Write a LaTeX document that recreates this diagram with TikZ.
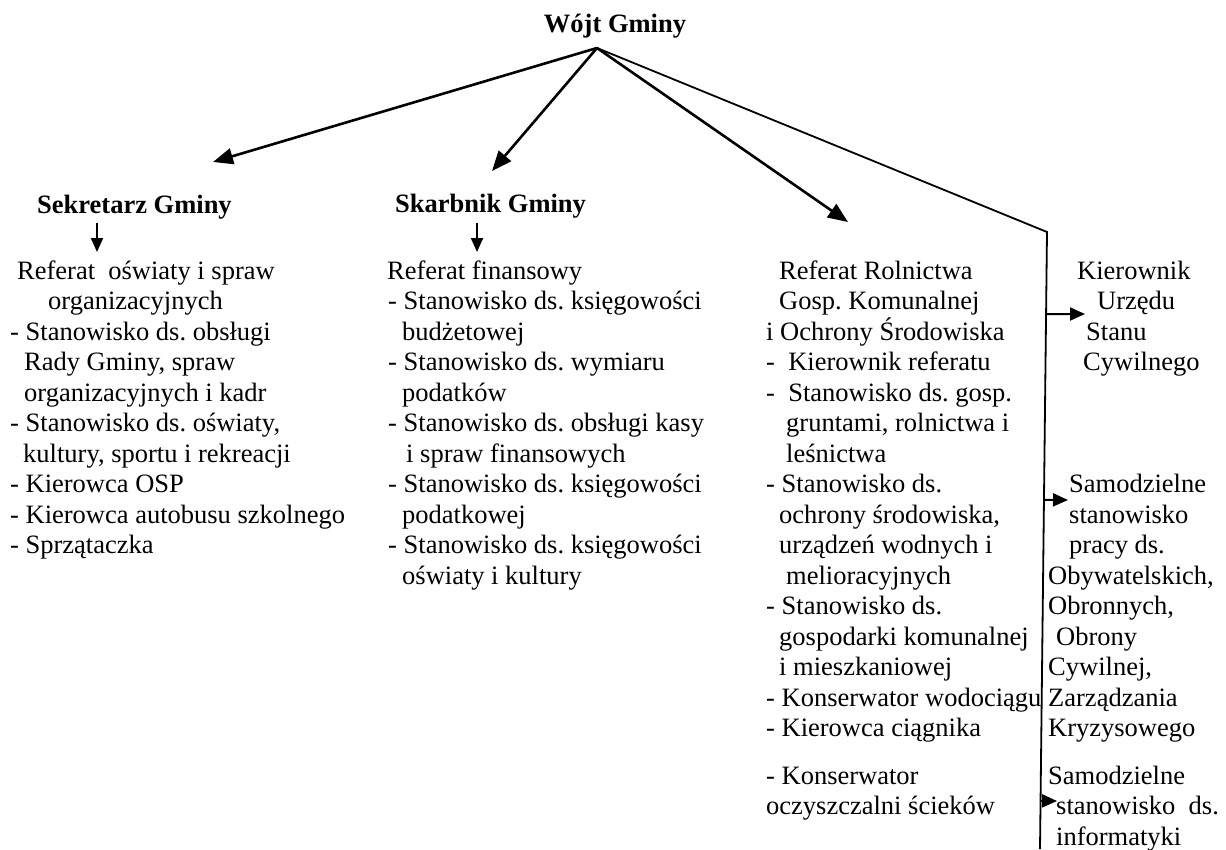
\documentclass[tikz,border=0pt]{standalone}
\usepackage{fontspec}
\setmainfont{Liberation Serif}
\usetikzlibrary{arrows.meta,calc}

\begin{document}
\frenchspacing
\begin{tikzpicture}[x=1pt,y=-1pt,
    txt/.style={inner sep=0pt,anchor=north west,align=left,
      font=\fontsize{26.5}{30.5}\selectfont},
    boss/.style={inner sep=0pt,anchor=base west,
      font=\fontsize{26.5}{30.5}\selectfont\bfseries},
    bigarrow/.style={line width=2.6pt,-{Triangle[length=20pt,width=16pt]}},
    smallarrow/.style={line width=2pt,-{Triangle[length=14pt,width=12pt]}},
    sidearrow/.style={line width=2pt,-{Triangle[length=15pt,width=13pt]}}]
    \useasboundingbox (0,0) rectangle (1226,849);
    % first lines get a strut of 20pt, so the top of a block is baseline-20
    \newcommand{\topstrut}{\rule{0pt}{20pt}}

    % heads
    \node[boss,anchor=base] (wojt) at (615,32) {Wójt Gminy};
    \node[boss] (sekretarz) at (37,213) {Sekretarz Gminy};
    \node[boss] (skarbnik) at (395,212) {Skarbnik Gminy};

    % columns
    \node[txt] (oswiata) at (10,259) {%
      \topstrut\hspace*{7pt}Referat\ \ oświaty i spraw\\
      \hspace*{38pt}organizacyjnych\\
      - Stanowisko ds. obsługi\\
      \hspace*{14pt}Rady Gminy, spraw\\
      \hspace*{14pt}organizacyjnych i kadr\\
      - Stanowisko ds. oświaty,\\
      \hspace*{13pt}kultury, sportu i rekreacji\\
      - Kierowca OSP\\
      - Kierowca autobusu szkolnego\\
      - Sprzątaczka};
    \node[txt] (finanse) at (387,259) {%
      \topstrut Referat finansowy\\
      \hspace*{1pt}- Stanowisko ds. księgowości\\
      \hspace*{15pt}budżetowej\\
      \hspace*{1pt}- Stanowisko ds. wymiaru\\
      \hspace*{15pt}podatków\\
      \hspace*{1pt}- Stanowisko ds. obsługi kasy\\
      \hspace*{19pt}i spraw finansowych\\
      \hspace*{1pt}- Stanowisko ds. księgowości\\
      \hspace*{15pt}podatkowej\\
      \hspace*{1pt}- Stanowisko ds. księgowości\\
      \hspace*{15pt}oświaty i kultury};
    \node[txt] (rolnictwo) at (766,259) {%
      \topstrut\hspace*{13pt}Referat Rolnictwa\\
      \hspace*{13pt}Gosp. Komunalnej\\
      i Ochrony Środowiska\\
      -\ \ Kierownik referatu\\
      -\ \ Stanowisko ds. gosp.\\
      \hspace*{20pt}gruntami, rolnictwa i\\
      \hspace*{20pt}leśnictwa\\
      - Stanowisko ds.\\
      \hspace*{13pt}ochrony środowiska,\\
      \hspace*{13pt}urządzeń wodnych i\\
      \hspace*{20pt}melioracyjnych\\
      - Stanowisko ds.\\
      \hspace*{13pt}gospodarki komunalnej\\
      \hspace*{13pt}i mieszkaniowej\\
      - Konserwator wodociągu\\
      - Kierowca ciągnika};
    \node[txt] (oczyszczalnia) at (766,764) {%
      \topstrut- Konserwator\\
      oczyszczalni ścieków};
    \node[txt] (usc) at (1077,259) {%
      \topstrut Kierownik\\
      \hspace*{20pt}Urzędu\\
      \hspace*{9pt}Stanu\\
      \hspace*{6pt}Cywilnego};
    \node[txt] (obrona) at (1048,472.5) {%
      \topstrut\hspace*{21pt}Samodzielne\\
      \hspace*{21pt}stanowisko\\
      \hspace*{21pt}pracy ds.\\
      Obywatelskich,\\
      Obronnych,\\
      \hspace*{8pt}Obrony\\
      Cywilnej,\\
      Zarządzania\\
      Kryzysowego};
    \node[txt] (informatyka) at (1048,764) {%
      \topstrut Samodzielne\\
      \hspace*{8pt}stanowisko\ \ ds.\\
      \hspace*{8pt}informatyki};

    % connectors
    \coordinate (apex) at (597,48);
    \coordinate (sek tip) at (213,162);
    \coordinate (skarb tip) at (492,171);
    \coordinate (rol tip) at (848,222);
    \coordinate (vtop) at (1047,232);
    \coordinate (vbot) at (1040,849);

    \draw[bigarrow] (apex) -- (sek tip);
    \draw[bigarrow] (apex) -- (skarb tip);
    \draw[bigarrow] (apex) -- (rol tip);
    \draw[line width=1.8pt,line join=miter] (apex) -- (vtop) -- (vbot);

    \draw[smallarrow] (97,223) coordinate (sek a) -- (97,252) coordinate (sek b);
    \draw[smallarrow] (477,223) coordinate (skarb a) -- (477,252) coordinate (skarb b);

    \draw[sidearrow] ($(vtop)!0.133!(vbot)$) -- (1085,314);
    \draw[sidearrow] ($(vtop)!0.434!(vbot)$) -- (1068,500);
    \draw[sidearrow] ($(vtop)!0.922!(vbot)$) -- (1057,801);
\end{tikzpicture}
\end{document}
